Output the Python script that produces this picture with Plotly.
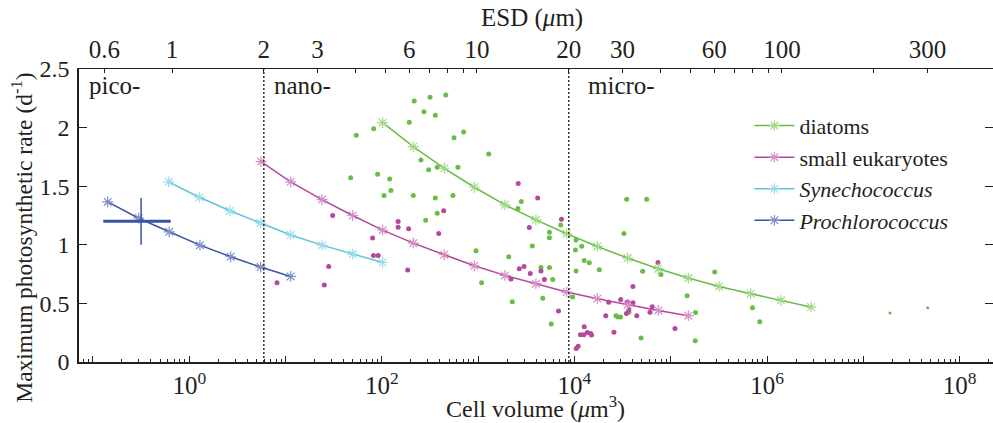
import numpy as np
import plotly.graph_objects as go

# ---------------- data (cell volume given as log10 of um^3) ----------------
pro_logv = [-0.847, -0.525, -0.208, 0.111, 0.430, 0.741, 1.053]
pro_rate = [1.366, 1.227, 1.111, 0.997, 0.898, 0.810, 0.730]

syn_logv = [-0.214, 0.104, 0.423, 0.741, 1.053, 1.378, 1.697, 2.008]
syn_rate = [1.537, 1.406, 1.290, 1.185, 1.083, 0.997, 0.921, 0.849]

euk_logv = [0.745, 1.053, 1.378, 1.697, 2.008, 2.326, 2.648, 2.960, 3.278, 3.600,
            3.919, 4.237, 4.552, 4.870, 5.182]
euk_rate = [1.710, 1.537, 1.386, 1.250, 1.125, 1.014, 0.915, 0.821, 0.739, 0.668,
            0.597, 0.540, 0.489, 0.440, 0.395]

dia_logv = [2.008, 2.326, 2.648, 2.960, 3.278, 3.600, 3.919, 4.237, 4.552, 4.870,
            5.182, 5.500, 5.830, 6.144, 6.456]
dia_rate = [2.042, 1.837, 1.653, 1.491, 1.341, 1.213, 1.094, 0.986, 0.887, 0.796,
            0.716, 0.645, 0.583, 0.526, 0.469]

# observed Prochlorococcus (cross)
pro_obs_logv = -0.5
pro_obs_logv_range = [-0.893, -0.193]
pro_obs_rate = 1.2
pro_obs_rate_range = [1.0, 1.4]

# observed diatoms
dia_obs_logv = [2.663, 2.500, 2.336, 2.437, 2.555, 2.285, 1.915, 1.734, 2.849, 2.749,
                3.109, 2.406, 2.486, 2.575, 2.790, 1.676, 1.956, 2.081, 2.094, 2.022,
                2.326, 2.555, 2.738, 3.448, 3.413, 2.575, 2.455, 3.857, 3.740, 3.740,
                3.562, 2.977, 3.317, 4.542, 4.750, 4.514, 4.016, 4.075, 4.010, 4.101,
                4.154, 4.016, 4.258, 3.652, 3.740, 3.774, 4.708, 4.898, 5.457, 3.036,
                3.354, 3.671, 3.981, 5.170, 5.257, 5.848, 5.924, 3.759, 4.431, 4.452,
                4.478, 4.566, 4.691, 5.254]
dia_obs_rate = [2.278, 2.258, 2.227, 2.135, 2.105, 2.045, 1.991, 1.934, 1.963, 1.914,
                1.775, 1.724, 1.641, 1.662, 1.662, 1.573, 1.602, 1.562, 1.463, 1.420,
                1.420, 1.400, 1.420, 1.369, 1.309, 1.270, 1.210, 1.168, 1.108, 1.060,
                0.989, 0.949, 0.898, 1.389, 1.389, 1.096, 1.040, 0.987, 0.956, 0.865,
                0.847, 0.776, 0.787, 0.807, 0.807, 0.704, 0.774, 0.747, 0.767, 0.676,
                0.514, 0.543, 0.555, 0.566, 0.423, 0.463, 0.344, 0.325, 0.395, 0.384,
                0.384, 0.425, 0.204, 0.182]
# two very large diatoms (small dots)
dia_big_logv = [7.276, 7.668]
dia_big_rate = [0.418, 0.463]

# observed small eukaryotes
euk_obs_logv = [1.489, 0.911, 1.402, 1.448, 1.904, 1.913, 1.962, 2.169, 2.169, 2.278,
                2.590, 2.642, 2.268, 3.416, 3.618, 3.865, 3.531, 3.427, 3.476, 3.541,
                3.652, 3.341, 3.688, 3.834, 4.867, 4.607, 4.480, 4.355, 4.550, 4.607,
                4.564, 4.540, 4.325, 4.647, 4.807, 4.784, 5.044, 4.410, 4.101, 4.062,
                4.097, 4.133, 4.168, 4.177, 4.038, 4.018]
euk_obs_rate = [1.250, 0.676, 0.657, 0.815, 1.058, 0.909, 0.909, 1.198, 1.149, 1.136,
                1.096, 1.290, 0.784, 1.522, 1.400, 1.219, 1.147, 0.796, 0.815, 0.756,
                0.776, 0.708, 0.704, 0.436, 0.848, 0.645, 0.533, 0.509, 0.513, 0.506,
                0.446, 0.414, 0.395, 0.395, 0.472, 0.425, 0.285, 0.253, 0.300, 0.232,
                0.232, 0.252, 0.244, 0.231, 0.134, 0.116]

# axis ticks
y_ticks = [0, 0.5, 1, 1.5, 2, 2.5]
y_ticklabels = ["0", "0.5", "1", "1.5", "2", "2.5"]
x_decades = list(range(-1, 9))
esd_ticks = [0.6, 1, 2, 3, 4, 5, 6, 7, 8, 9, 10, 20, 30, 40, 50, 60, 70, 80, 90, 100, 200, 300]
esd_labels = ["0.6", "1", "2", "3", "", "", "6", "", "", "", "10", "20", "30", "", "", "60",
              "", "", "", "100", "", "300"]
size_class_bounds = [2, 20]      # ESD (um)
size_class_names = ["pico-", "nano-", "micro-"]

# ---------------- styling ----------------
FONT = "Liberation Serif"
INK = "#231F20"
C_DIA, C_DIA_L = "#69BD45", "#9FD888"
C_EUK, C_EUK_L = "#B5479D", "#D58DC6"
C_SYN, C_SYN_L = "#5BC6DA", "#9ADDEA"
C_PRO, C_PRO_L = "#3953A4", "#7F90CA"

def v(arr):
    return [10 ** a for a in arr]

fig = go.Figure()

# observed points
fig.add_trace(go.Scatter(x=v(dia_obs_logv), y=dia_obs_rate, mode="markers",
                         marker=dict(size=5, color=C_DIA), showlegend=False, hoverinfo="skip"))
fig.add_trace(go.Scatter(x=v(dia_big_logv), y=dia_big_rate, mode="markers",
                         marker=dict(size=3, color=C_DIA), showlegend=False, hoverinfo="skip"))
fig.add_trace(go.Scatter(x=v(euk_obs_logv), y=euk_obs_rate, mode="markers",
                         marker=dict(size=5, color=C_EUK), showlegend=False, hoverinfo="skip"))

# model curves
series = [
    ("diatoms", dia_logv, dia_rate, C_DIA, C_DIA_L),
    ("small eukaryotes", euk_logv, euk_rate, C_EUK, C_EUK_L),
    ("<i>Synechococcus</i>", syn_logv, syn_rate, C_SYN, C_SYN_L),
    ("<i>Prochlorococcus</i>", pro_logv, pro_rate, C_PRO, C_PRO_L),
]
for name, lx, ry, c, cl in series:
    fig.add_trace(go.Scatter(x=v(lx), y=ry, mode="lines+markers", name=name,
                             line=dict(color=c, width=1.5),
                             marker=dict(symbol="asterisk-open", size=9,
                                         line=dict(color=cl, width=1.2), color=cl)))

# observed Prochlorococcus cross
fig.add_trace(go.Scatter(x=v(pro_obs_logv_range), y=[pro_obs_rate, pro_obs_rate], mode="lines",
                         line=dict(color=C_PRO, width=3), showlegend=False, hoverinfo="skip"))
fig.add_trace(go.Scatter(x=[10 ** pro_obs_logv] * 2, y=pro_obs_rate_range, mode="lines",
                         line=dict(color=C_PRO, width=1.5), showlegend=False, hoverinfo="skip"))

# size-class boundaries (on ESD axis)
for b in size_class_bounds:
    fig.add_trace(go.Scatter(x=[np.log10(b)] * 2, y=[0, 2.5], xaxis="x2", yaxis="y",
                             mode="lines", line=dict(color="#333333", width=1.5, dash="2px,2px"),
                             showlegend=False, hoverinfo="skip"))
# invisible trace to carry the right-hand tick axis
fig.add_trace(go.Scatter(x=[1], y=[None], yaxis="y2", mode="markers", showlegend=False,
                         hoverinfo="skip"))

minor_vals = [k * 10.0 ** d for d in range(-2, 9) for k in range(2, 10)]
minor_vals = [m for m in minor_vals if 10 ** -1.145 < m < 10 ** 8.346]

fig.update_layout(
    width=993, height=423,
    margin=dict(l=79, r=0, t=69, b=61, autoexpand=False),
    paper_bgcolor="white", plot_bgcolor="white",
    font=dict(family=FONT, color=INK),
    xaxis=dict(type="log", range=[-1.145, 8.346], automargin=False,
               tickvals=[10.0 ** d for d in x_decades],
               ticktext=[("10<sup>%d</sup>" % d) if d % 2 == 0 and d >= 0 else "" for d in x_decades],
               ticks="inside", ticklen=6, tickwidth=1, tickcolor=INK,
               minor=dict(tickvals=minor_vals, ticks="inside", ticklen=3, tickcolor=INK, showgrid=False),
               showline=True, linewidth=2, linecolor=INK, showgrid=False, zeroline=False,
               tickfont=dict(size=25, family=FONT, color=INK)),
    xaxis2=dict(overlaying="x", side="top", anchor="y", range=[-0.305, 2.692], automargin=False,
                tickvals=[float(np.log10(t)) for t in esd_ticks], ticktext=esd_labels,
                ticks="inside", ticklen=4, tickcolor=INK,
                showline=True, linewidth=1, linecolor=INK, showgrid=False, zeroline=False,
                tickfont=dict(size=25, family=FONT, color=INK)),
    yaxis=dict(range=[0, 2.5], tickvals=y_ticks, ticktext=y_ticklabels, automargin=False,
               ticks="inside", ticklen=8, tickcolor=INK, ticklabelstandoff=3,
               showline=True, linewidth=1.5, linecolor=INK, showgrid=False, zeroline=False,
               tickfont=dict(size=24, family=FONT, color=INK)),
    yaxis2=dict(overlaying="y", side="right", anchor="x", range=[0, 2.5], tickvals=y_ticks,
                automargin=False,
                ticks="inside", ticklen=8, tickcolor=INK, showticklabels=False,
                showline=False, showgrid=False, zeroline=False),
    legend=dict(x=0.7335, y=0.878, xanchor="left", yanchor="top", bgcolor="rgba(0,0,0,0)",
                font=dict(size=22, family=FONT, color=INK), tracegroupgap=0,
                itemwidth=40),
    showlegend=True,
)

annos = [
    dict(text="Maximum photosynthetic rate (d<sup>-1</sup>)", x=-0.0624, y=0.424, textangle=-90,
         font=dict(size=23.5)),
    dict(text="Cell volume (<i>μ</i>m<sup>3</sup>)", x=0.499, y=-0.152, font=dict(size=24)),
    dict(text="ESD (<i>μ</i>m)", x=0.496, y=1.174, font=dict(size=25)),
]
for a in annos:
    fig.add_annotation(xref="paper", yref="paper", showarrow=False, xanchor="center",
                       yanchor="middle", font_family=FONT, font_color=INK, **a)

label_shift = [0, 8, 17]
name_pos_esd = [None, size_class_bounds[0], size_class_bounds[1]]
for nm, b, sh in zip(size_class_names, name_pos_esd, label_shift):
    if b is None:
        fig.add_annotation(xref="paper", yref="paper", x=0.009, y=0.945, text=nm, showarrow=False,
                           xanchor="left", yanchor="middle",
                           font=dict(size=25, family=FONT, color=INK))
    else:
        fig.add_annotation(xref="x2", yref="paper", x=float(np.log10(b)), y=0.945, text=nm,
                           showarrow=False, xanchor="left", yanchor="middle", xshift=sh,
                           font=dict(size=25, family=FONT, color=INK))

fig.write_html("out.html", config={"displayModeBar": False},
               post_script="document.body.style.margin='0px';document.body.style.overflow='hidden';")
